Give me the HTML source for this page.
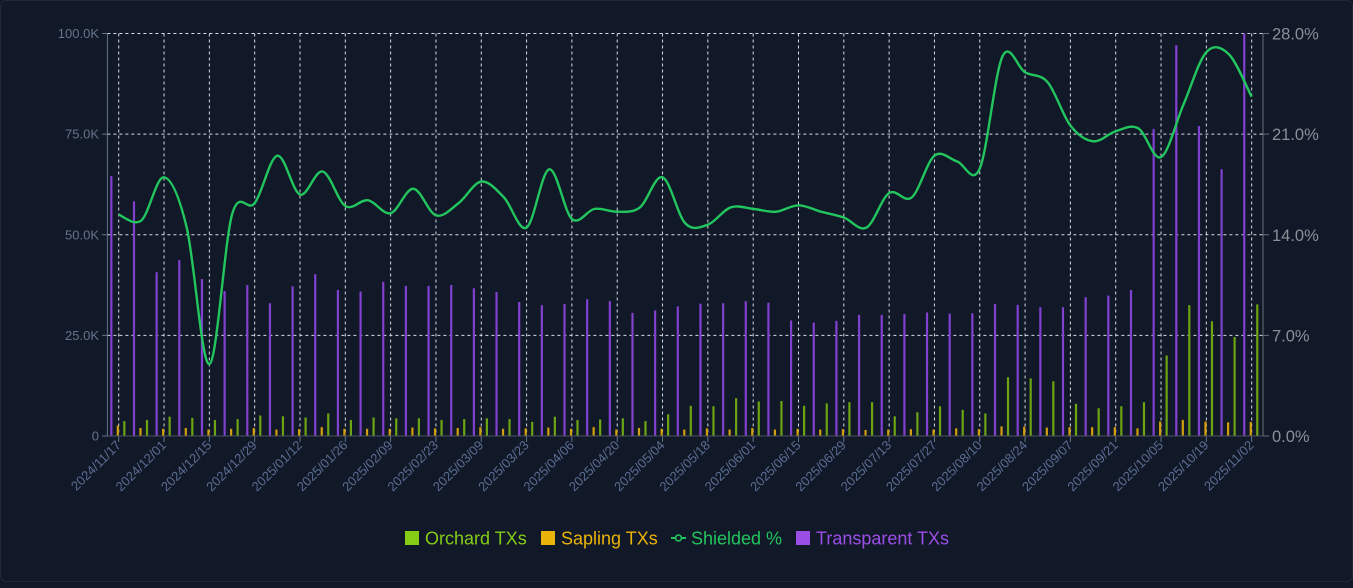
<!DOCTYPE html>
<html><head><meta charset="utf-8">
<style>
html,body{margin:0;padding:0;background:#111827;}
body{width:1353px;height:582px;overflow:hidden;font-family:"Liberation Sans",sans-serif;}
#card{position:absolute;left:0;top:0;width:1351px;height:580px;border:1px solid #1f2937;border-radius:6px;}
</style></head>
<body>
<div id="card">
<svg id="chart" width="1353" height="582"></svg>
</div>
<script>
const startDate = "2024/11/17";
const transparent = [64.6,58.3,40.7,43.7,39.0,36.0,37.5,33.0,37.2,40.2,36.3,35.9,38.3,37.3,37.3,37.5,36.7,35.8,33.3,32.5,32.8,34.0,33.5,30.6,31.2,32.2,32.9,33.0,33.5,33.1,28.7,28.2,28.6,30.1,30.1,30.3,30.7,30.4,30.5,32.8,32.6,32.0,32.0,34.5,34.9,36.3,76.3,97.1,77.0,66.3,100];
const orchard = [3.7,4.0,4.8,4.5,4.0,4.2,5.1,4.9,4.6,5.6,4.0,4.6,4.4,4.4,4.0,4.2,4.4,4.2,3.5,4.8,4.0,4.1,4.4,3.7,5.4,7.5,7.4,9.4,8.6,8.7,7.5,8.1,8.4,8.4,4.9,5.9,7.4,6.5,5.6,14.6,14.3,13.6,8.0,6.9,7.4,8.4,20.0,32.5,28.5,24.6,32.7];
const sapling = [2.6,2.0,1.8,2.0,1.6,1.8,2.0,1.6,1.7,2.2,1.8,1.8,1.8,2.1,1.9,2.0,2.2,1.8,1.9,2.1,1.8,2.2,1.6,2.0,1.8,1.6,1.9,1.6,2.0,1.6,1.8,1.6,1.7,1.5,1.6,1.7,1.6,1.9,1.7,2.4,2.3,2.1,2.2,2.2,2.2,1.9,3.6,4.0,3.6,3.4,3.5];
const shielded = [15.4,15.0,18.0,14.5,5.0,15.4,16.2,19.5,16.8,18.4,16.0,16.4,15.5,17.2,15.35,16.2,17.7,16.6,14.5,18.55,15.1,15.8,15.6,15.9,18.0,14.8,14.7,15.9,15.8,15.6,16.05,15.6,15.2,14.5,16.9,16.6,19.5,19.1,18.6,26.4,25.3,24.6,21.6,20.5,21.2,21.4,19.4,23.1,26.7,26.55,23.6];
const leftTicks = ["0","25.0K","50.0K","75.0K","100.0K"];
const rightTicks = ["0.0%","7.0%","14.0%","21.0%","28.0%"];
const leftMax = 100, rightMax = 28;

const NS="http://www.w3.org/2000/svg";
const svg=document.getElementById('chart');
const L=106.4,R=1262,T=32.5,B=435;
const n=transparent.length, bw=(R-L)/n;
const xc=i=>L+bw*(i+0.5);
const yL=v=>B-(v/leftMax)*(B-T);
const yR=v=>B-(v/rightMax)*(B-T);
function mk(tag,attrs,parent){const e=document.createElementNS(NS,tag);for(const k in attrs)e.setAttribute(k,attrs[k]);(parent||svg).appendChild(e);return e;}
function fmt(d){return d.getFullYear()+"/"+String(d.getMonth()+1).padStart(2,"0")+"/"+String(d.getDate()).padStart(2,"0");}
const sd=new Date(startDate.replace(/\//g,"-")+"T12:00:00");
const labels=[];for(let i=0;i<n;i++){const d=new Date(sd.getTime()+i*7*86400000);labels.push(fmt(d));}

for(let i=0;i<leftTicks.length;i++){
  const y=yL(i*leftMax/(leftTicks.length-1));
  if(i>0){const g=mk('line',{x1:L,x2:R,y1:y,y2:y,stroke:'#d8dce3','stroke-width':1,'stroke-dasharray':'3,3'});
  
  }
  const t=mk('text',{x:98,y:y+4.5,'text-anchor':'end','font-size':13,fill:'#64748b'});t.textContent=leftTicks[i];
  
  
  mk('line',{x1:101,x2:L,y1:y,y2:y,stroke:'#64748b'});
  const r=mk('text',{x:1271,y:y+6,'font-size':16.5,fill:'#8b8f97'});r.textContent=rightTicks[i];
  
  
  mk('line',{x1:R,x2:R+6,y1:y,y2:y,stroke:'#6b6f77'});
}
for(let i=0;i<n;i+=2){
  const x=xc(i);
  const g=mk('line',{x1:x,x2:x,y1:T,y2:B,stroke:'#d8dce3','stroke-width':1,'stroke-dasharray':'3,3'});
  
  
  mk('line',{x1:x,x2:x,y1:B,y2:B+6,stroke:'#64748b'});
  const t=mk('text',{x:x+3,y:B+10,'text-anchor':'end','font-size':13,fill:'#5b6e93',transform:`rotate(-45 ${x+3} ${B+10})`});
  t.textContent=labels[i];
  
  
}
for(let i=0;i<n;i++){
  const c=xc(i);
  const specs=[[transparent[i],c-7.5,'#8040d0','bar-transparent'],[sapling[i],c-1,'#d39e0b','bar-sapling'],[orchard[i],c+5.5,'#6ca412','bar-orchard']];
  for(const [v,x,col,name] of specs){
    const y=yL(v);
    const b=mk('rect',{x:x-1,y:y,width:2.2,height:B-y,fill:col});
    
    
  }
}
mk('line',{x1:L,x2:L,y1:T,y2:B,stroke:'#64748b'});
mk('line',{x1:R,x2:R,y1:T,y2:B,stroke:'#6b6f77'});
mk('line',{x1:L,x2:R,y1:B,y2:B,stroke:'#4b5563'});
const pts=shielded.map((v,i)=>[xc(i),yR(v)]);
let d=`M${pts[0][0]},${pts[0][1]}`;
for(let i=0;i<pts.length-1;i++){
  const p0=pts[Math.max(0,i-1)],p1=pts[i],p2=pts[i+1],p3=pts[Math.min(pts.length-1,i+2)];
  const t=1/6;
  d+=` C${p1[0]+(p2[0]-p0[0])*t},${p1[1]+(p2[1]-p0[1])*t} ${p2[0]-(p3[0]-p1[0])*t},${p2[1]-(p3[1]-p1[1])*t} ${p2[0]},${p2[1]}`;
}
const ln=mk('path',{d:d,fill:'none',stroke:'#22c55e','stroke-width':2.4});



const lg=mk('g',{});


const items=[['Orchard TXs','#84cc16','sq',404],['Sapling TXs','#eab308','sq',540],['Shielded %','#22c55e','ln',670],['Transparent TXs','#9b4ee6','sq',795]];
for(const [txt,col,kind,x] of items){
  const g=mk('g',{},lg);
  
  
  if(kind==='sq'){mk('rect',{x:x,y:530,width:14,height:14,fill:col},g);}
  else{mk('line',{x1:x,x2:x+15,y1:537,y2:537,stroke:col,'stroke-width':2},g);mk('circle',{cx:x+7.5,cy:537,r:3,fill:'#111827',stroke:col,'stroke-width':1.6},g);}
  const t=mk('text',{x:x+20,y:543.5,'font-size':18,fill:col},g);t.textContent=txt;
}
</script>
</body></html>
